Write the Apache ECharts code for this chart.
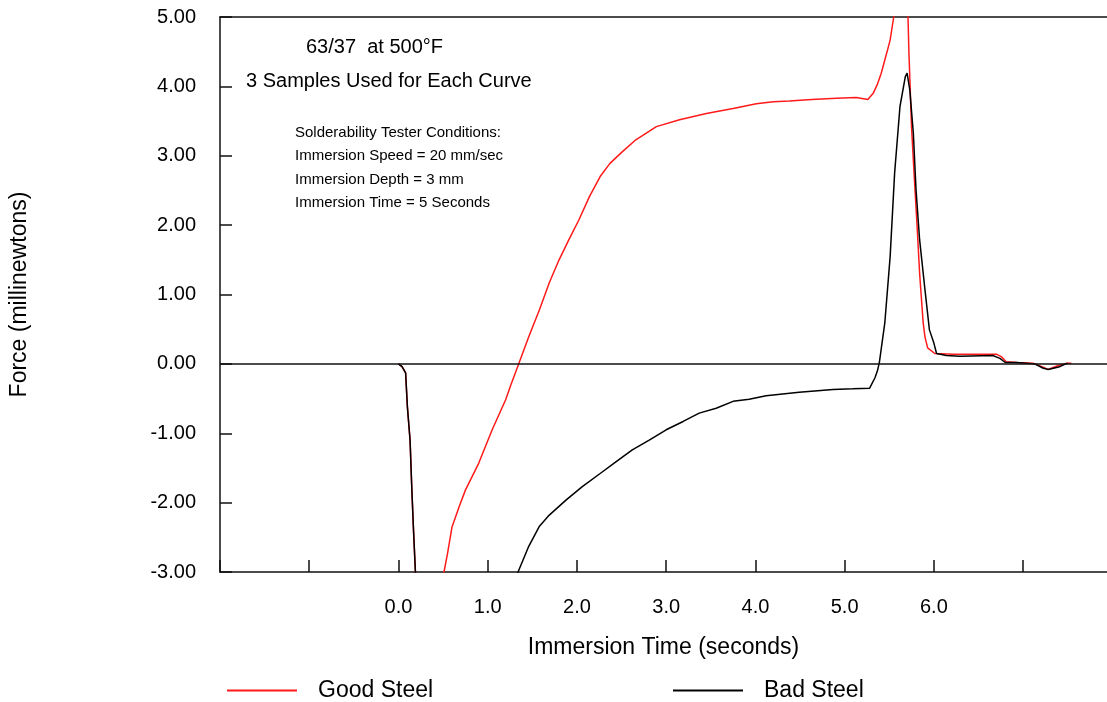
<!DOCTYPE html>
<html>
<head>
<meta charset="utf-8">
<script src="https://cdn.jsdelivr.net/npm/echarts@6/dist/echarts.min.js"></script>
<style>
  html, body { margin: 0; padding: 0; background: #fff; }
  #main { width: 1107px; height: 702px; }
</style>
</head>
<body>
<div id="main"></div>
<script>
// values (seconds, millinewtons)
var goodTime = [0.00, 0.04, 0.08, 0.10, 0.13, 0.15, 0.17, 0.19, 0.23, 0.35, 0.47, 0.51, 0.55, 0.60, 0.68, 0.75,
    0.90, 1.05, 1.20, 1.26, 1.35, 1.46, 1.58, 1.69, 1.80, 1.91, 2.02, 2.14, 2.26, 2.37, 2.51, 2.66, 2.89, 3.15,
    3.45, 3.75, 4.01, 4.20, 4.38, 4.63, 4.91, 5.13, 5.26, 5.32, 5.37, 5.41, 5.45, 5.49, 5.51, 5.55, 5.60, 5.66,
    5.71, 5.72, 5.75, 5.78, 5.81, 5.84, 5.88, 5.90, 5.93, 6.01, 6.22, 6.70, 6.76, 6.81, 6.93, 7.11, 7.21, 7.28,
    7.38, 7.49, 7.54];
var goodForce = [0.00, -0.04, -0.13, -0.62, -1.10, -1.82, -2.44, -3.00, -3.60, -4.10, -3.50, -3.00, -2.73, -2.35, -2.06, -1.82,
    -1.43, -0.95, -0.52, -0.30, 0.01, 0.39, 0.78, 1.17, 1.50, 1.79, 2.07, 2.41, 2.70, 2.89, 3.06, 3.23, 3.42, 3.52,
    3.61, 3.68, 3.75, 3.78, 3.79, 3.81, 3.83, 3.84, 3.81, 3.90, 4.04, 4.19, 4.38, 4.57, 4.67, 5.00, 5.40, 5.50,
    5.00, 4.50, 3.40, 2.70, 2.03, 1.31, 0.59, 0.39, 0.23, 0.15, 0.14, 0.14, 0.10, 0.03, 0.02, 0.01, -0.04, -0.08,
    -0.03, 0.01, 0.01];

var badTime = [0.00, 0.04, 0.08, 0.10, 0.13, 0.15, 0.17, 0.19, 0.30, 0.70, 1.10, 1.34, 1.46, 1.58, 1.69, 1.88,
    2.06, 2.26, 2.44, 2.62, 2.81, 3.00, 3.19, 3.37, 3.56, 3.75, 3.93, 4.12, 4.49, 4.87, 5.09, 5.28, 5.34, 5.37,
    5.39, 5.45, 5.51, 5.56, 5.62, 5.68, 5.70, 5.73, 5.77, 5.80, 5.84, 5.90, 5.95, 6.00, 6.03, 6.14, 6.29, 6.66,
    6.74, 6.80, 6.93, 7.13, 7.22, 7.28, 7.41, 7.50];
var badForce = [0.00, -0.04, -0.13, -0.62, -1.10, -1.82, -2.44, -3.00, -4.40, -4.90, -4.00, -3.00, -2.63, -2.34, -2.18, -1.96,
    -1.77, -1.58, -1.41, -1.24, -1.10, -0.95, -0.83, -0.71, -0.64, -0.54, -0.51, -0.46, -0.41, -0.37, -0.36, -0.35, -0.20, -0.09,
    0.03, 0.59, 1.55, 2.75, 3.71, 4.14, 4.19, 3.95, 3.32, 2.51, 1.79, 1.07, 0.49, 0.30, 0.15, 0.12, 0.11, 0.12,
    0.08, 0.02, 0.02, 0.00, -0.06, -0.08, -0.04, 0.01];

var xTicks = [-2, -1, 0, 1, 2, 3, 4, 5, 6, 7];
var xLabels = [0, 1, 2, 3, 4, 5, 6];

var notes = ['Solderability Tester Conditions:', 'Immersion Speed = 20 mm/sec',
    'Immersion Depth = 3 mm', 'Immersion Time = 5 Seconds'];

function pairs(xs, ys) {
    var out = [];
    for (var i = 0; i < xs.length; i++) out.push([xs[i], ys[i]]);
    return out;
}

var font = 'Liberation Sans, Arial, sans-serif';
var noteEls = notes.map(function (t, i) {
    return {
        type: 'text', left: 295, top: 125 + i * 23.5,
        style: { text: t, font: '15px ' + font, fill: '#000' }
    };
});

var myChart = echarts.init(document.getElementById('main'));
var option = {
    backgroundColor: '#fff',
    animation: false,
    textStyle: { fontFamily: font },
    grid: { left: 220, right: 0, top: 17, bottom: 130 },
    legend: [{
        left: 222, top: 674, icon: 'rect', itemWidth: 70, itemHeight: 2,
        data: ['Good Steel'],
        textStyle: { fontSize: 23, color: '#000', padding: [0, 0, 0, 16] }
    }, {
        left: 668, top: 674, icon: 'rect', itemWidth: 70, itemHeight: 2,
        data: ['Bad Steel'],
        textStyle: { fontSize: 23, color: '#000', padding: [0, 0, 0, 16] }
    }],
    xAxis: [{
        type: 'value', min: -2, max: 7.94, interval: 1,
        name: 'Immersion Time (seconds)', nameLocation: 'middle', nameGap: 64,
        nameTextStyle: { fontSize: 23, color: '#000' },
        axisLine: { show: true, onZero: false, lineStyle: { color: '#111', width: 1.5 } },
        axisTick: { show: true, inside: true, length: 12, customValues: xTicks, lineStyle: { color: '#111', width: 1.5 } },
        axisLabel: {
            customValues: xLabels, margin: 25, fontSize: 20, color: '#000',
            formatter: function (v) { return v.toFixed(1); }
        },
        splitLine: { show: false }
    }, {
        type: 'value', position: 'top', min: -2, max: 7.94,
        axisLine: { show: true, onZero: false, lineStyle: { color: '#111', width: 1.5 } },
        axisTick: { show: false }, axisLabel: { show: false }, splitLine: { show: false }
    }],
    yAxis: {
        type: 'value', min: -3, max: 5, interval: 1,
        name: 'Force (millinewtons)', nameLocation: 'middle', nameGap: 189,
        nameTextStyle: { fontSize: 23, color: '#000' },
        axisLine: { show: true, onZero: false, lineStyle: { color: '#111', width: 1.5 } },
        axisTick: { show: true, inside: true, length: 12, lineStyle: { color: '#111', width: 1.5 } },
        axisLabel: {
            margin: 24, fontSize: 20, color: '#000',
            formatter: function (v) { return v.toFixed(2); }
        },
        splitLine: { show: false }
    },
    graphic: [{
        type: 'text', left: 306, top: 37,
        style: { text: '63/37  at 500°F', font: '20px ' + font, fill: '#000' }
    }, {
        type: 'text', left: 246, top: 71,
        style: { text: '3 Samples Used for Each Curve', font: '20px ' + font, fill: '#000' }
    }].concat(noteEls),
    series: [{
        name: 'Good Steel', type: 'line', showSymbol: false, symbol: 'none',
        color: '#ff1a1a', lineStyle: { width: 1.5 },
        data: pairs(goodTime, goodForce),
        markLine: {
            silent: true, symbol: 'none', label: { show: false },
            lineStyle: { color: '#111', width: 1.5, type: 'solid' },
            data: [{ yAxis: 0 }]
        }
    }, {
        name: 'Bad Steel', type: 'line', showSymbol: false, symbol: 'none',
        color: '#000', lineStyle: { width: 1.5 },
        data: pairs(badTime, badForce)
    }]
};
myChart.setOption(option);
</script>
</body>
</html>
